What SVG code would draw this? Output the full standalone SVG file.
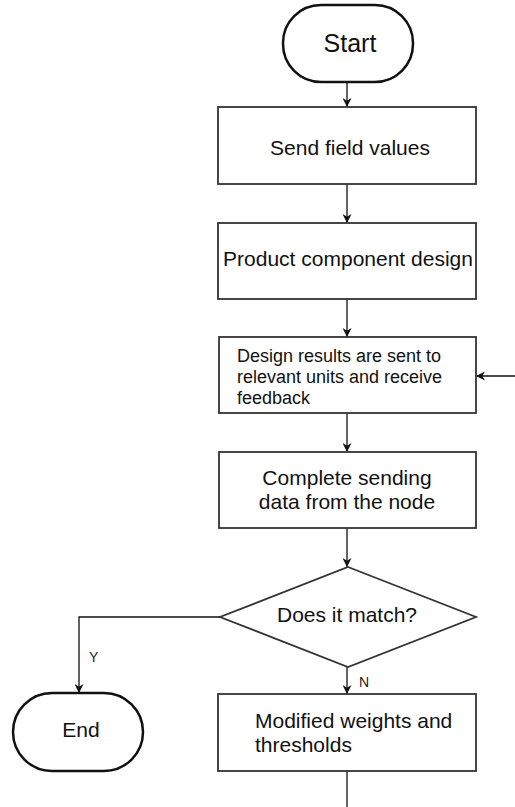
<svg xmlns="http://www.w3.org/2000/svg" width="515" height="807" viewBox="0 0 515 807">
<style>
.term{fill:#fff;stroke:#111;stroke-width:2.5}
.box{fill:#fff;stroke:#333;stroke-width:1.8}
.t{font-family:"Liberation Sans",Arial,sans-serif;fill:#111;font-size:21px}
.c{text-anchor:middle}
.s{font-size:18px}
.lbl{font-family:"Liberation Sans",Arial,sans-serif;fill:#222;font-size:14px}
.ln{fill:none;stroke:#111;stroke-width:1.3}
</style>
<defs>
<marker id="ah" viewBox="0 0 10 10" refX="10" refY="5" markerWidth="9" markerHeight="9" markerUnits="userSpaceOnUse" orient="auto">
<path d="M0,0 L10,5 L0,10 L3,5 Z" fill="#111"/>
</marker>
</defs>
<rect width="515" height="807" fill="#fff"/>
<g id="connectors">
<line class="ln" x1="347" y1="82" x2="347" y2="107" marker-end="url(#ah)"/>
<line class="ln" x1="347" y1="184" x2="347" y2="223" marker-end="url(#ah)"/>
<line class="ln" x1="347" y1="299" x2="347" y2="337" marker-end="url(#ah)"/>
<line class="ln" x1="515" y1="376" x2="476" y2="376" marker-end="url(#ah)"/>
<line class="ln" x1="347" y1="413" x2="347" y2="452" marker-end="url(#ah)"/>
<line class="ln" x1="347" y1="528" x2="347" y2="567" marker-end="url(#ah)"/>
<polyline class="ln" points="220,617 79,617 79,693" marker-end="url(#ah)"/>
<line class="ln" x1="347" y1="667" x2="347" y2="694" marker-end="url(#ah)"/>
<line class="ln" x1="347" y1="771" x2="347" y2="807"/>
<text class="lbl" x="89" y="662">Y</text>
<text class="lbl" x="359" y="687">N</text>
</g>
<g id="start">
<rect class="term" x="283" y="5" width="130" height="77" rx="38" ry="38"/>
<text class="t c" x="350" y="52" style="font-size:25px">Start</text>
</g>
<g id="send">
<rect class="box" x="218" y="107" width="258" height="77"/>
<text class="t c" x="350" y="155">Send field values</text>
</g>
<g id="design">
<rect class="box" x="218" y="223" width="258" height="76"/>
<text class="t c" x="348" y="266">Product component design</text>
</g>
<g id="results">
<rect class="box" x="219" y="337" width="257" height="76"/>
<text class="t s" x="237" y="362">Design results are sent to</text>
<text class="t s" x="237" y="383">relevant units and receive</text>
<text class="t s" x="237" y="404">feedback</text>
</g>
<g id="complete">
<rect class="box" x="219" y="452" width="257" height="76"/>
<text class="t c" x="347" y="485">Complete sending</text>
<text class="t c" x="347" y="509">data from the node</text>
</g>
<g id="match">
<polygon class="box" points="348,567 476,617 348,667 220,617"/>
<text class="t c" x="347" y="622">Does it match?</text>
</g>
<g id="end">
<rect class="term" x="13" y="693" width="130" height="78" rx="39" ry="39"/>
<text class="t c" x="81" y="737">End</text>
</g>
<g id="modify">
<rect class="box" x="218" y="694" width="258" height="77"/>
<text class="t" x="255" y="728">Modified weights and</text>
<text class="t" x="255" y="752">thresholds</text>
</g>
</svg>
